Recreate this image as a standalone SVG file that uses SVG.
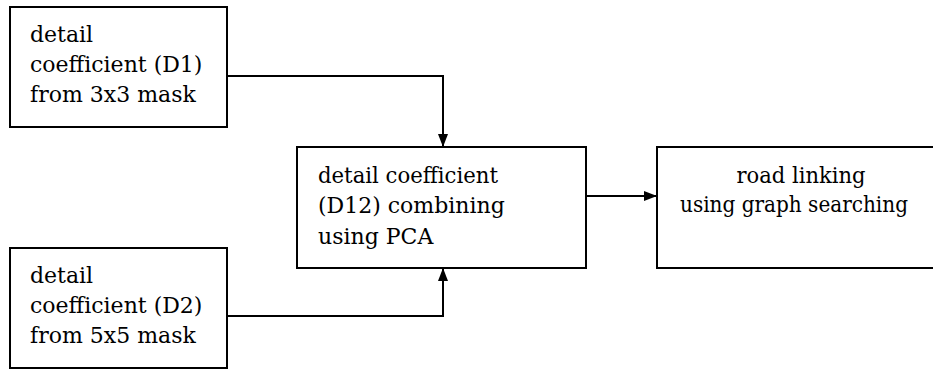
<svg xmlns="http://www.w3.org/2000/svg" width="933" height="370" viewBox="0 0 933 370">
  <style>
    .box { fill: #ffffff; stroke: #000000; stroke-width: 2; }
    .lbl { font-family: 'DejaVu Serif', 'Liberation Serif', serif; font-size: 22px; fill: #000000; }
    .mid { text-anchor: middle; }
    .wire { fill: none; stroke: #000000; stroke-width: 2; }
  </style>
  <defs>
    <marker id="arrow" viewBox="0 0 13 10" refX="13" refY="5" markerWidth="13" markerHeight="10" markerUnits="userSpaceOnUse" orient="auto">
      <path d="M0,0 L13,5 L0,10 z" fill="#000000"/>
    </marker>
  </defs>

  <g id="connectors">
    <path class="wire" d="M227,76 H443 V147" marker-end="url(#arrow)"/>
    <path class="wire" d="M227,316 H443 V268" marker-end="url(#arrow)"/>
    <path class="wire" d="M586,196 H657" marker-end="url(#arrow)"/>
  </g>

  <g id="d1">
    <rect class="box" x="10" y="7" width="217" height="120"/>
    <text class="lbl" x="30" y="42">detail</text>
    <text class="lbl" x="30" y="72">coefficient (D1)</text>
    <text class="lbl" x="30" y="102">from 3x3 mask</text>
  </g>

  <g id="d2">
    <rect class="box" x="10" y="248" width="217" height="120"/>
    <text class="lbl" x="30" y="283">detail</text>
    <text class="lbl" x="30" y="313">coefficient (D2)</text>
    <text class="lbl" x="30" y="343">from 5x5 mask</text>
  </g>

  <g id="d12">
    <rect class="box" x="297" y="147" width="289" height="121"/>
    <text class="lbl" x="318" y="183" textLength="180" lengthAdjust="spacingAndGlyphs">detail coefficient</text>
    <text class="lbl" x="318" y="213">(D12) combining</text>
    <text class="lbl" x="318" y="244">using PCA</text>
  </g>

  <g id="linking">
    <rect class="box" x="657" y="147" width="280" height="121"/>
    <text class="lbl mid" x="801" y="183" textLength="129" lengthAdjust="spacingAndGlyphs">road linking</text>
    <text class="lbl mid" x="794" y="212" textLength="228" lengthAdjust="spacingAndGlyphs">using graph searching</text>
  </g>
</svg>
